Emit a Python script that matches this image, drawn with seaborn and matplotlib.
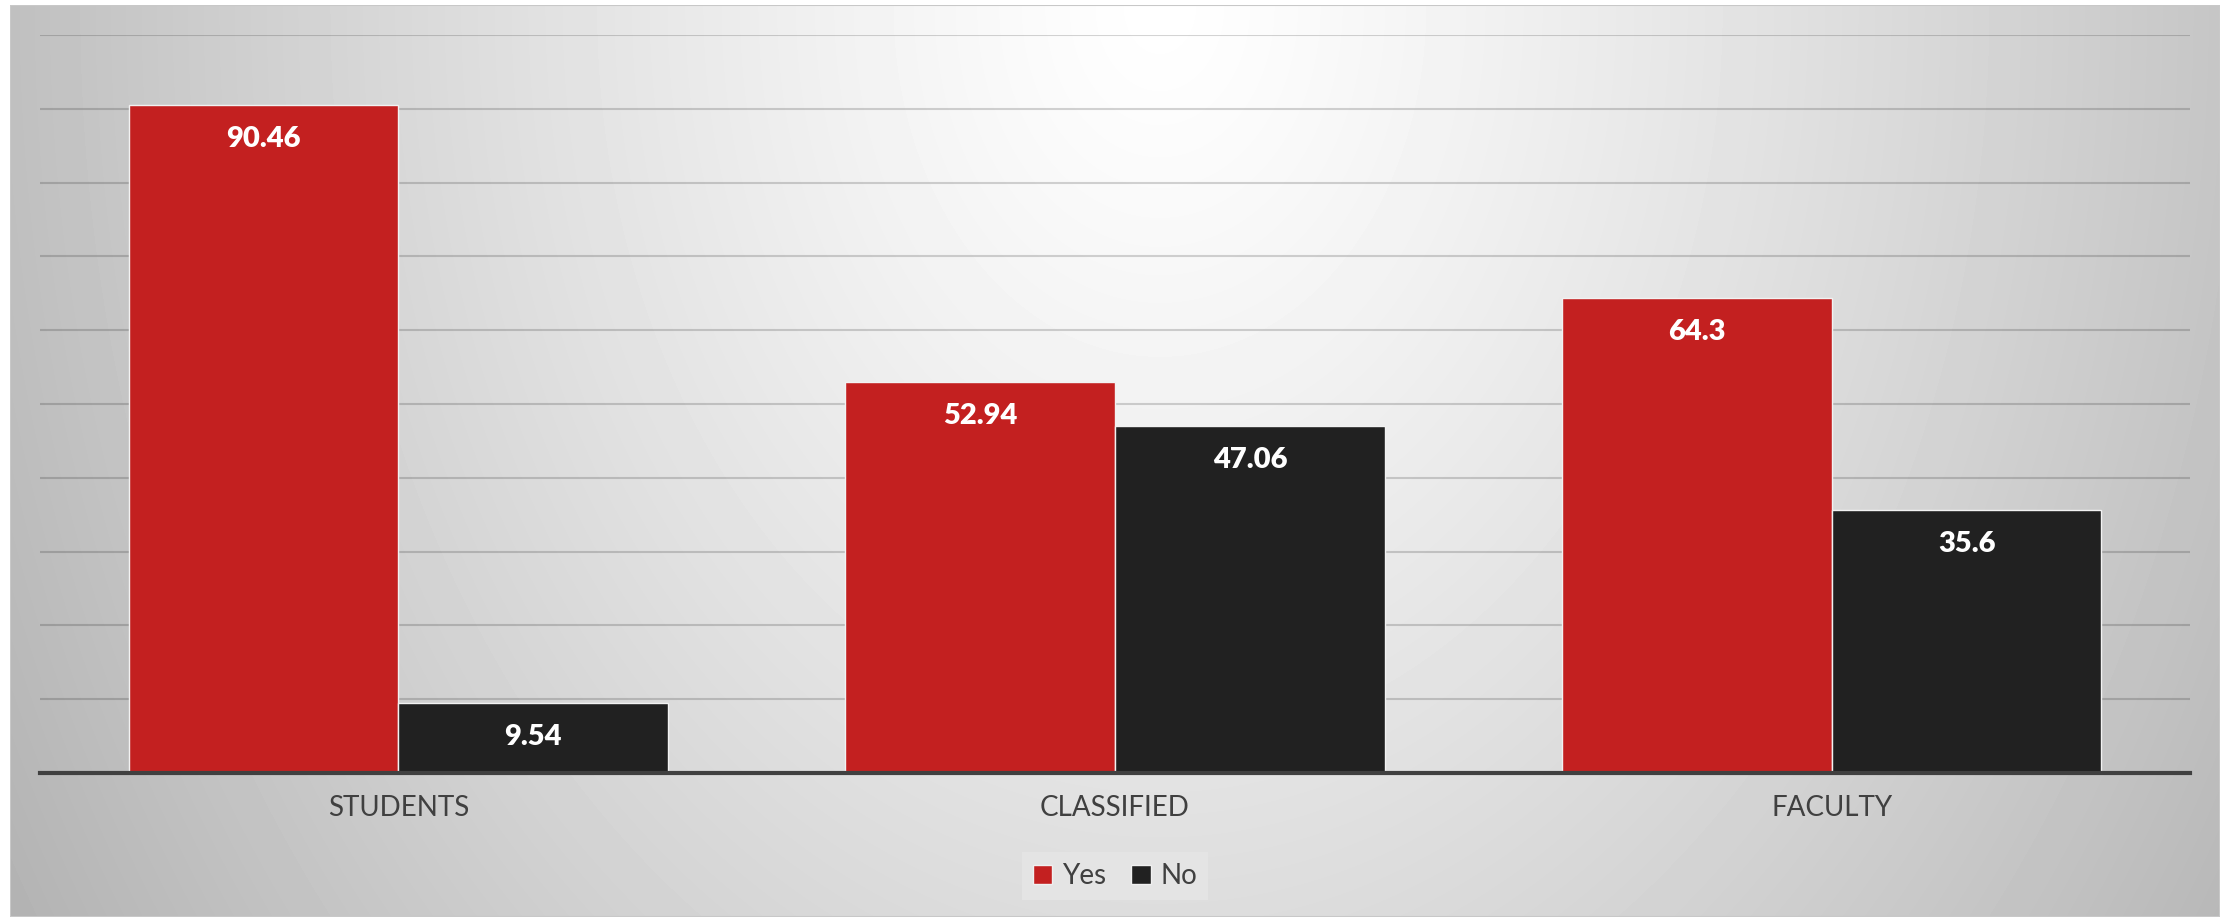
import numpy as np
import pandas as pd
import matplotlib
matplotlib.use("Agg")
import matplotlib.pyplot as plt
from matplotlib.patches import Patch
import seaborn as sns

# Survey answers by group (percent)
groups = ["STUDENTS", "CLASSIFIED", "FACULTY"]
yes_values = [90.46, 52.94, 64.3]
no_values = [9.54, 47.06, 35.6]
answers = ["Yes", "No"]

df = pd.DataFrame({
    "group": groups * 2,
    "answer": ["Yes"] * len(groups) + ["No"] * len(groups),
    "value": yes_values + no_values,
})

sns.set_theme(style="white")
plt.rcParams["font.family"] = ["Lato", "DejaVu Sans"]

W, H = 2231, 917
fig = plt.figure(figsize=(W / 100, H / 100), dpi=100)
fig.patch.set_facecolor("white")

# Soft radial backdrop: white near the top centre, grey towards the edges
bg = fig.add_axes([10 / W, 0, 2210 / W, 912 / H], zorder=-1)
gx = np.linspace(0, 2210, 700)
gy = np.linspace(0, 912, 300)
X, Y = np.meshgrid(gx, gy)
t = np.sqrt(((X - 1150) / 1100) ** 2 + (Y / 1450) ** 2)
shade = np.clip(255 - 60 * t ** 1.2, 0, 255) / 255.0
bg.imshow(shade, cmap="gray", vmin=0, vmax=1, aspect="auto",
          extent=[0, 1, 0, 1], origin="upper", interpolation="bilinear")
bg.set_xlim(0, 1)
bg.set_ylim(0, 1)
bg.axis("off")
bg.add_patch(plt.Rectangle((0, 0), 1, 1, fill=False, edgecolor="#c8c8c8",
                           linewidth=1.5, transform=bg.transAxes))

ax = fig.add_axes([40 / W, 1 - 773 / H, 2150 / W, (773 - 35) / H])
ax.set_facecolor("none")

palette = {"Yes": "#C32020", "No": "#212121"}
sns.barplot(data=df, x="group", y="value", hue="answer", hue_order=answers,
            order=groups, palette=palette, width=0.753, saturation=1,
            edgecolor="#f2f2f2", linewidth=1.0, legend=False, ax=ax)

ax.set_xlim(-0.5, len(groups) - 0.5)
ax.set_ylim(0, 100)
ax.set_yticks(np.arange(10, 101, 10))
ax.yaxis.grid(True, color="#000000", alpha=0.17, linewidth=1.5)
ax.set_axisbelow(True)
ax.set_yticklabels([])
ax.tick_params(axis="both", length=0)
ax.tick_params(axis="x", labelsize=20, labelcolor="#404040", pad=16)
ax.set_xlabel("")
ax.set_ylabel("")
for side in ["left", "right", "top"]:
    ax.spines[side].set_visible(False)
ax.spines["bottom"].set_color("#404040")
ax.spines["bottom"].set_linewidth(3)
ax.spines["bottom"].set_zorder(5)

# Value labels inside the top of each bar
for container in ax.containers:
    for bar in container:
        h = bar.get_height()
        ax.text(bar.get_x() + bar.get_width() / 2, h - 4.6, f"{h:g}",
                ha="center", va="center", color="white", fontsize=21,
                fontweight="heavy")

handles = [Patch(facecolor=palette[a], edgecolor="#f0f0f0", linewidth=1.0, label=a)
           for a in answers]
leg = fig.legend(handles=handles, loc="center", bbox_to_anchor=(1115 / W, 1 - 876 / H),
                 ncol=2, frameon=True, fontsize=20, handlelength=0.7,
                 handleheight=0.7, handletextpad=0.35, columnspacing=0.9,
                 borderpad=0.4, fancybox=False)
leg.get_frame().set_facecolor("#e6e6e6")
leg.get_frame().set_edgecolor("none")
for txt in leg.get_texts():
    txt.set_color("#404040")

fig.savefig("out.png", dpi=100)
